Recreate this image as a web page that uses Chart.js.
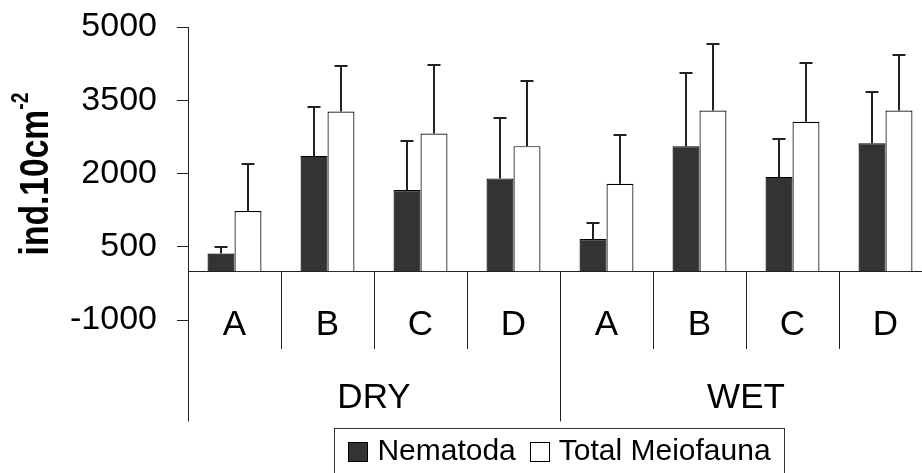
<!DOCTYPE html>
<html><head><meta charset="utf-8">
<script src="https://cdn.jsdelivr.net/npm/chart.js@4.4.1/dist/chart.umd.min.js"></script>
<style>
html,body{margin:0;padding:0;background:#fff;overflow:hidden;width:922px;height:473px;}
#wrap{position:relative;width:940px;height:473px;}
</style></head><body>
<div id="wrap"><canvas id="c" width="940" height="473"></canvas></div>
<script>
// ---- data ----
const categories = ['A','B','C','D','A','B','C','D'];
const groups = ['DRY','WET'];
const nematoda     = [360, 2360, 1660, 1900, 660, 2560, 1930, 2620];
const nematodaErr  = [135, 1000, 1010, 1230, 330, 1500, 770, 1040];
const totalMeio    = [1230, 3270, 2820, 2560, 1790, 3290, 3060, 3290];
const totalMeioErr = [965, 935, 1405, 1335, 995, 1365, 1195, 1140];
const yTicks = [-1000, 500, 2000, 3500, 5000];
const seriesNames = ['Nematoda', 'Total Meiofauna'];

const FONT = "'Liberation Sans', Arial, Helvetica, sans-serif";
const errors = [nematodaErr, totalMeioErr];
const LINE = '#222';

const errorBars = {
  id: 'errorBars',
  afterDatasetsDraw(chart) {
    const ctx = chart.ctx, y = chart.scales.y;
    chart.data.datasets.forEach((ds, i) => {
      const meta = chart.getDatasetMeta(i);
      meta.data.forEach((bar, j) => {
        const top = Math.round(y.getPixelForValue(ds.data[j] + errors[i][j]));
        const x = Math.round(bar.x);
        ctx.save();
        ctx.strokeStyle = LINE; ctx.lineWidth = 2;
        ctx.beginPath();
        ctx.moveTo(x, bar.y); ctx.lineTo(x, top);
        ctx.moveTo(x - 6.5, top); ctx.lineTo(x + 6.5, top);
        ctx.stroke();
        ctx.restore();
      });
    });
  }
};

const decorations = {
  id: 'decorations',
  afterDraw(chart) {
    const ctx = chart.ctx, xs = chart.scales.x, ys = chart.scales.y;
    const zero = ys.getPixelForValue(0);
    const half = (xs.getPixelForValue(1) - xs.getPixelForValue(0)) / 2;
    const per = categories.length / groups.length;
    ctx.save();
    ctx.strokeStyle = LINE; ctx.lineWidth = 1;
    // group dividers
    for (let g = 0; g <= groups.length; g++) {
      const idx = g * per;
      const px = Math.round(idx < categories.length ? xs.getPixelForValue(idx) - half : xs.getPixelForValue(categories.length - 1) + half) + 0.5;
      ctx.beginPath(); ctx.moveTo(px, zero); ctx.lineTo(px, 421.5); ctx.stroke();
    }
    // group labels
    ctx.fillStyle = '#000';
    ctx.font = `35px ${FONT}`;
    ctx.textAlign = 'center'; ctx.textBaseline = 'middle';
    groups.forEach((g, gi) => {
      const a = xs.getPixelForValue(gi * per) - half;
      const b = xs.getPixelForValue(gi * per + per - 1) + half;
      ctx.fillText(g, (a + b) / 2, 398);
    });
    // y title with superscript
    ctx.translate(48, 174);
    ctx.rotate(-Math.PI / 2);
    ctx.scale(0.84, 1);
    ctx.textAlign = 'left'; ctx.textBaseline = 'alphabetic';
    const mainF = `bold 40px ${FONT}`, supF = `bold 23px ${FONT}`;
    ctx.font = mainF; const w1 = ctx.measureText('ind.10cm').width;
    ctx.font = supF; const w2 = ctx.measureText('-2').width;
    const start = -(w1 + w2) / 2;
    ctx.font = mainF; ctx.fillText('ind.10cm', start, 0);
    ctx.font = supF; ctx.fillText('-2', start + w1, -20);
    ctx.restore();

    // legend
    ctx.save();
    const bx = 334.5, by = 428.5, bw = 450, bh = 60;
    ctx.strokeStyle = '#333'; ctx.lineWidth = 1;
    ctx.strokeRect(bx, by, bw, bh);
    ctx.font = `30px ${FONT}`;
    ctx.textBaseline = 'middle'; ctx.textAlign = 'left';
    const sq = 19, g1 = 10, g2 = 14;
    const widths = chart.data.datasets.map(d => ctx.measureText(d.label).width);
    const total = sq * 2 + g1 * 2 + g2 + widths[0] + widths[1];
    let x = bx + (bw - total) / 2;
    const cy = 452;
    chart.data.datasets.forEach((d, i) => {
      ctx.fillStyle = d.backgroundColor;
      ctx.fillRect(Math.round(x) + 0.5, cy - 9.5, sq, sq);
      ctx.strokeStyle = '#000';
      ctx.strokeRect(Math.round(x) + 0.5, cy - 9.5, sq, sq);
      x += sq + g1;
      ctx.fillStyle = '#000';
      ctx.fillText(d.label, x, cy);
      x += widths[i] + g2;
    });
    ctx.restore();
  }
};

new Chart(document.getElementById('c'), {
  type: 'bar',
  data: {
    labels: categories,
    datasets: [
      { label: seriesNames[0], data: nematoda, backgroundColor: '#333333', borderColor: '#000', borderWidth: 1.2 },
      { label: seriesNames[1], data: totalMeio, backgroundColor: '#ffffff', borderColor: '#000', borderWidth: 1.2 }
    ]
  },
  options: {
    responsive: false,
    animation: false,
    devicePixelRatio: 1,
    layout: { padding: { top: 27, bottom: 153, left: 0, right: 8 } },
    plugins: { legend: { display: false }, tooltip: { enabled: false } },
    datasets: { bar: { categoryPercentage: 0.58, barPercentage: 1 } },
    scales: {
      x: {
        position: { y: 0 },
        offset: true,
        grid: { offset: true, drawOnChartArea: false, drawTicks: true, tickLength: 77, color: LINE, lineWidth: 1 },
        border: { display: true, color: LINE, width: 1 },
        ticks: { color: '#000', font: { family: FONT, size: 35 }, padding: -44, maxRotation: 0, autoSkip: false }
      },
      y: {
        min: -1000, max: 5000,
        afterBuildTicks: (s) => { s.ticks = yTicks.map(v => ({ value: v })); },
        afterFit: (s) => { s.width = 188; s.paddingTop = 0; s.paddingBottom = 0; },
        grid: { drawOnChartArea: false, drawTicks: true, tickLength: 11, color: LINE, lineWidth: 1 },
        border: { display: true, color: LINE, width: 1 },
        ticks: { color: '#000', font: { family: FONT, size: 34 }, padding: 20, callback: (v) => String(v) }
      }
    }
  },
  plugins: [errorBars, decorations]
});
</script>
</body></html>
